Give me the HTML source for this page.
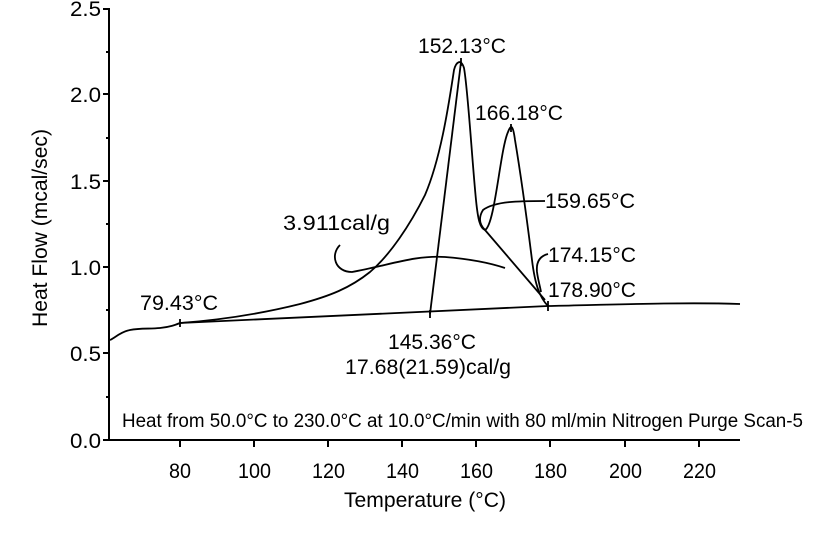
<!DOCTYPE html>
<html><head><meta charset="utf-8"><style>body{margin:0;background:#fff}svg{display:block}text{font-family:"Liberation Sans",sans-serif;fill:#000}</style></head><body>
<svg width="837" height="534" viewBox="0 0 837 534" xmlns="http://www.w3.org/2000/svg">
<g stroke="#000" stroke-width="2" fill="none">
<path d="M109 8 V440 H740"/>
<path d="M103 9H109M103 94H109M103 181H109M103 267H109M103 353H109M103 440H109"/>
<path d="M106 52H109M106 138H109M106 224H109M106 310H109M106 397H109"/>
<path d="M180 440V447M254 440V447M328 440V447M402 440V447M476 440V447M550 440V447M625 440V447M699 440V447"/>
</g>
<g stroke="#000" stroke-width="1.8" fill="none">
<path d="M110 340 C115 338,120 332,130 330 S150 329,160 328 S175 325,180 323 C220 320,260 314,300 304 C330 296,350 288,370 272 C390 255,410 225,425 195 C440 160,448 110,454 70 C456 62,461 58,464 68 C468 90,472 160,476 200 C478 220,480 228,485 230 C495 225,500 150,508 132 C511 124,513 125,515 140 C520 170,527 220,532 260 C535 285,540 298,548 306 C600 305,680 302,740 304"/>
<path d="M180 323 L548 306"/>
<path d="M430 314 L461 62"/>
<path d="M485 230 L545 300"/>
<path d="M340 245 C330 255,335 272,352 272 C390 265,415 255,445 257 C470 259,490 263,505 268"/>
<path d="M545 201 C520 201,495 201,483 210 C478 218,480 225,485 230"/>
<path d="M548 254 C540 256,536 262,537 272 C538 280,540 286,541 292"/>
<path d="M180 319V327M548 301V311M430 310V318M461 58V66M511 124V132"/>
</g>
<g font-size="21" lengthAdjust="spacingAndGlyphs">
<text x="70" y="16" textLength="31" lengthAdjust="spacingAndGlyphs">2.5</text>
<text x="70" y="102" textLength="31" lengthAdjust="spacingAndGlyphs">2.0</text>
<text x="70" y="189" textLength="31" lengthAdjust="spacingAndGlyphs">1.5</text>
<text x="70" y="275" textLength="31" lengthAdjust="spacingAndGlyphs">1.0</text>
<text x="70" y="361" textLength="31" lengthAdjust="spacingAndGlyphs">0.5</text>
<text x="70" y="448" textLength="31" lengthAdjust="spacingAndGlyphs">0.0</text>
<text x="169" y="478" textLength="22" lengthAdjust="spacingAndGlyphs">80</text>
<text x="238" y="478" textLength="33" lengthAdjust="spacingAndGlyphs">100</text>
<text x="312" y="478" textLength="33" lengthAdjust="spacingAndGlyphs">120</text>
<text x="386" y="478" textLength="33" lengthAdjust="spacingAndGlyphs">140</text>
<text x="460" y="478" textLength="33" lengthAdjust="spacingAndGlyphs">160</text>
<text x="534" y="478" textLength="33" lengthAdjust="spacingAndGlyphs">180</text>
<text x="609" y="478" textLength="33" lengthAdjust="spacingAndGlyphs">200</text>
<text x="683" y="478" textLength="33" lengthAdjust="spacingAndGlyphs">220</text>
<text x="344" y="507" textLength="162" lengthAdjust="spacingAndGlyphs">Temperature (°C)</text>
<text transform="translate(47,327) rotate(-90)" textLength="198" lengthAdjust="spacingAndGlyphs">Heat Flow (mcal/sec)</text>
<text x="418" y="53" textLength="88" lengthAdjust="spacingAndGlyphs">152.13°C</text>
<text x="475" y="120" textLength="88" lengthAdjust="spacingAndGlyphs">166.18°C</text>
<text x="545" y="208" textLength="90" lengthAdjust="spacingAndGlyphs">159.65°C</text>
<text x="548" y="262" textLength="88" lengthAdjust="spacingAndGlyphs">174.15°C</text>
<text x="548" y="297" textLength="88" lengthAdjust="spacingAndGlyphs">178.90°C</text>
<text x="140" y="310" textLength="78" lengthAdjust="spacingAndGlyphs">79.43°C</text>
<text x="283" y="230" textLength="107" lengthAdjust="spacingAndGlyphs">3.911cal/g</text>
<text x="388" y="349" textLength="88" lengthAdjust="spacingAndGlyphs">145.36°C</text>
<text x="345" y="374" textLength="166" lengthAdjust="spacingAndGlyphs">17.68(21.59)cal/g</text>
<text x="122" y="427" textLength="681" lengthAdjust="spacingAndGlyphs" font-size="19">Heat from 50.0°C to 230.0°C at 10.0°C/min with 80 ml/min Nitrogen Purge Scan-5</text>
</g>
</svg>
</body></html>
